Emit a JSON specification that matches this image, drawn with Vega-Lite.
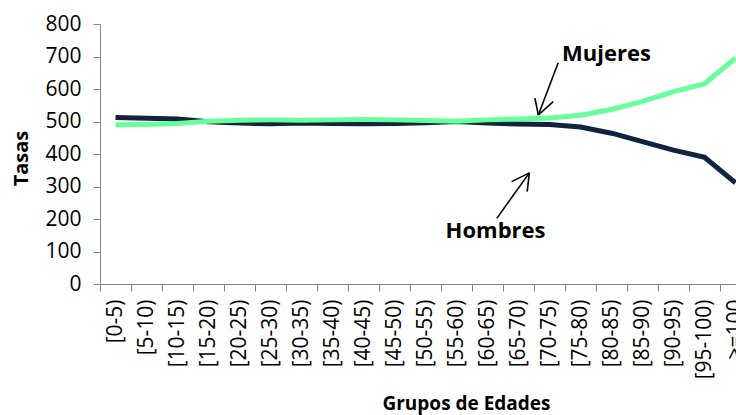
{
  "$schema": "https://vega.github.io/schema/vega-lite/v6.json",
  "autosize": {"type": "none"},
  "width": 636,
  "height": 260,
  "padding": {"left": 100, "top": 24, "right": 0, "bottom": 131},
  "background": "white",
  "config": {
    "view": {"stroke": null},
    "font": "Open Sans",
    "axis": {"labelFont": "Open Sans", "titleFont": "Open Sans", "labelColor": "#000000", "titleColor": "#000000"},
    "axisY": {
      "titleFontSize": 20,
      "titleFontWeight": "bold",
      "titleX": -79,
      "titleY": 134,
      "titleBaseline": "middle",
      "titleAngle": -90,
      "labelOverlap": false,
      "grid": false,
      "labelFontSize": 21,
      "labelPadding": 12,
      "tickSize": 7,
      "tickColor": "#868686",
      "domainColor": "#868686"
    }
  },
  "title": {
    "text": "Tasas por sexo y grupos de edades",
    "font": "Open Sans",
    "fontSize": 20,
    "fontWeight": "bold",
    "baseline": "alphabetic",
    "offset": 26,
    "anchor": "middle",
    "dx": -30,
    "color": "#000000"
  },
  "datasets": {
    "tasas": [
      {"grupo": "[0-5)", "sexo": "Hombres", "tasa": 512},
      {"grupo": "[5-10)", "sexo": "Hombres", "tasa": 510},
      {"grupo": "[10-15)", "sexo": "Hombres", "tasa": 508},
      {"grupo": "[15-20)", "sexo": "Hombres", "tasa": 499},
      {"grupo": "[20-25)", "sexo": "Hombres", "tasa": 495},
      {"grupo": "[25-30)", "sexo": "Hombres", "tasa": 493},
      {"grupo": "[30-35)", "sexo": "Hombres", "tasa": 495},
      {"grupo": "[35-40)", "sexo": "Hombres", "tasa": 494},
      {"grupo": "[40-45)", "sexo": "Hombres", "tasa": 493},
      {"grupo": "[45-50)", "sexo": "Hombres", "tasa": 494},
      {"grupo": "[50-55)", "sexo": "Hombres", "tasa": 496},
      {"grupo": "[55-60)", "sexo": "Hombres", "tasa": 500},
      {"grupo": "[60-65)", "sexo": "Hombres", "tasa": 495},
      {"grupo": "[65-70)", "sexo": "Hombres", "tasa": 492},
      {"grupo": "[70-75)", "sexo": "Hombres", "tasa": 491},
      {"grupo": "[75-80)", "sexo": "Hombres", "tasa": 483},
      {"grupo": "[80-85)", "sexo": "Hombres", "tasa": 464},
      {"grupo": "[85-90)", "sexo": "Hombres", "tasa": 438},
      {"grupo": "[90-95)", "sexo": "Hombres", "tasa": 412},
      {"grupo": "[95-100)", "sexo": "Hombres", "tasa": 390},
      {"grupo": ">=100", "sexo": "Hombres", "tasa": 311},
      {"grupo": "[0-5)", "sexo": "Mujeres", "tasa": 490},
      {"grupo": "[5-10)", "sexo": "Mujeres", "tasa": 491},
      {"grupo": "[10-15)", "sexo": "Mujeres", "tasa": 494},
      {"grupo": "[15-20)", "sexo": "Mujeres", "tasa": 501},
      {"grupo": "[20-25)", "sexo": "Mujeres", "tasa": 504},
      {"grupo": "[25-30)", "sexo": "Mujeres", "tasa": 505},
      {"grupo": "[30-35)", "sexo": "Mujeres", "tasa": 504},
      {"grupo": "[35-40)", "sexo": "Mujeres", "tasa": 505},
      {"grupo": "[40-45)", "sexo": "Mujeres", "tasa": 506},
      {"grupo": "[45-50)", "sexo": "Mujeres", "tasa": 505},
      {"grupo": "[50-55)", "sexo": "Mujeres", "tasa": 503},
      {"grupo": "[55-60)", "sexo": "Mujeres", "tasa": 501},
      {"grupo": "[60-65)", "sexo": "Mujeres", "tasa": 505},
      {"grupo": "[65-70)", "sexo": "Mujeres", "tasa": 508},
      {"grupo": "[70-75)", "sexo": "Mujeres", "tasa": 511},
      {"grupo": "[75-80)", "sexo": "Mujeres", "tasa": 519},
      {"grupo": "[80-85)", "sexo": "Mujeres", "tasa": 537},
      {"grupo": "[85-90)", "sexo": "Mujeres", "tasa": 562},
      {"grupo": "[90-95)", "sexo": "Mujeres", "tasa": 592},
      {"grupo": "[95-100)", "sexo": "Mujeres", "tasa": 616},
      {"grupo": ">=100", "sexo": "Mujeres", "tasa": 695}
    ],
    "flechas": [
      {"flecha": "Mujeres", "x1": 14.78, "y1": 681, "x2": 14.14, "y2": 520},
      {"flecha": "Mujeres", "x1": 14.03, "y1": 572, "x2": 14.14, "y2": 520},
      {"flecha": "Mujeres", "x1": 14.62, "y1": 561, "x2": 14.14, "y2": 520},
      {"flecha": "Hombres", "x1": 12.80, "y1": 202, "x2": 13.85, "y2": 342},
      {"flecha": "Hombres", "x1": 13.28, "y1": 315, "x2": 13.85, "y2": 342},
      {"flecha": "Hombres", "x1": 13.78, "y1": 284, "x2": 13.85, "y2": 342}
    ],
    "etiquetas": [
      {"texto": "Mujeres", "xq": 16.34, "v": 686},
      {"texto": "Hombres", "xq": 12.76, "v": 141}
    ]
  },
  "layer": [
    {
      "data": {"name": "tasas"},
      "mark": {"type": "line", "strokeWidth": 5, "strokeJoin": "round"},
      "encoding": {
        "x": {
          "field": "grupo",
          "type": "ordinal",
          "sort": null,
          "scale": {
            "type": "band",
            "domain": ["[0-5)", "[5-10)", "[10-15)", "[15-20)", "[20-25)", "[25-30)", "[30-35)", "[35-40)", "[40-45)", "[45-50)", "[50-55)", "[55-60)", "[60-65)", "[65-70)", "[70-75)", "[75-80)", "[80-85)", "[85-90)", "[90-95)", "[95-100)", ">=100"],
            "range": [0, 651],
            "paddingInner": 0,
            "paddingOuter": 0
          },
          "axis": {
            "title": "Grupos de Edades",
            "titleFontSize": 19,
            "titleFontWeight": "bold",
            "titleX": 366,
            "titleY": 125,
            "titleBaseline": "alphabetic",
            "titleAnchor": "middle",
            "labelAngle": -90,
            "labelFontSize": 21,
            "labelPadding": 8,
            "tickBand": "extent",
            "tickSize": 7,
            "tickColor": "#868686",
            "domainColor": "#868686",
            "labelOverlap": false,
            "labelBound": false
          }
        },
        "y": {
          "field": "tasa",
          "type": "quantitative",
          "scale": {"domain": [0, 800], "nice": false},
          "axis": {"title": "Tasas", "values": [0, 100, 200, 300, 400, 500, 600, 700, 800]}
        },
        "color": {
          "field": "sexo",
          "type": "nominal",
          "scale": {"domain": ["Hombres", "Mujeres"], "range": ["#0F243E", "#66FF99"]},
          "legend": null
        }
      }
    },
    {
      "data": {"name": "flechas"},
      "mark": {"type": "rule", "color": "#000000", "strokeWidth": 1.6},
      "encoding": {
        "x": {"field": "x1", "type": "quantitative", "scale": {"domain": [0, 21], "range": [0, 651], "nice": false, "zero": false}, "axis": null},
        "x2": {"field": "x2"},
        "y": {"field": "y1", "type": "quantitative", "axis": {"title": "Tasas", "values": [0, 100, 200, 300, 400, 500, 600, 700, 800]}},
        "y2": {"field": "y2"}
      }
    },
    {
      "data": {"name": "etiquetas"},
      "mark": {"type": "text", "font": "Open Sans", "fontSize": 22, "fontWeight": "bold", "color": "#000000", "align": "center", "baseline": "alphabetic"},
      "encoding": {
        "x": {"field": "xq", "type": "quantitative", "scale": {"domain": [0, 21], "range": [0, 651], "nice": false, "zero": false}, "axis": null},
        "y": {"field": "v", "type": "quantitative", "axis": {"title": "Tasas", "values": [0, 100, 200, 300, 400, 500, 600, 700, 800]}},
        "text": {"field": "texto"}
      }
    }
  ],
  "resolve": {"scale": {"x": "independent"}}
}
